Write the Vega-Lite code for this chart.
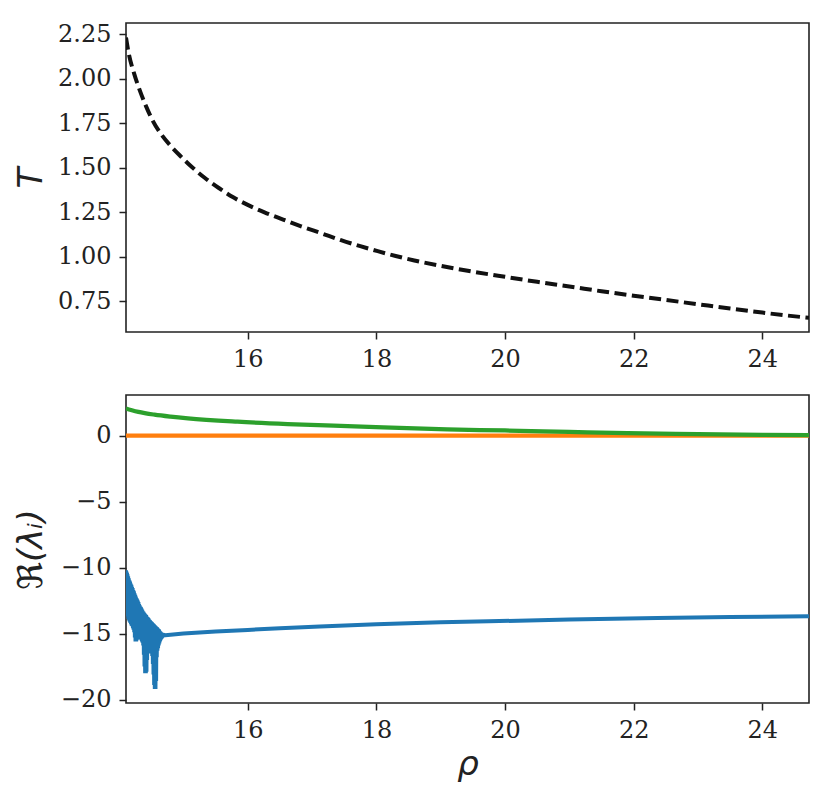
{
  "$schema": "https://vega.github.io/schema/vega-lite/v6.json",
  "padding": {"left": 13, "top": 21, "right": 10, "bottom": 5},
  "spacing": 22,
  "config": {
    "view": {"stroke": "#222", "strokeWidth": 1.6},
    "axis": {
      "grid": false,
      "domain": false,
      "tickColor": "#222",
      "tickWidth": 1.5,
      "tickSize": 7,
      "labelFont": "DejaVu Serif",
      "labelFontSize": 24,
      "labelColor": "#222",
      "labelPadding": 8,
      "titleFont": "DejaVu Sans",
      "titleFontStyle": "italic",
      "titleFontWeight": "normal",
      "titleFontSize": 34,
      "titleColor": "#222"
    }
  },
  "datasets": {
    "temp": [
      {"rho": 14.107, "T": 2.23},
      {"rho": 14.15, "T": 2.14},
      {"rho": 14.236, "T": 2.025},
      {"rho": 14.33, "T": 1.925},
      {"rho": 14.418, "T": 1.845},
      {"rho": 14.52, "T": 1.765},
      {"rho": 14.652, "T": 1.688},
      {"rho": 14.8, "T": 1.622},
      {"rho": 14.96, "T": 1.562},
      {"rho": 15.14, "T": 1.5},
      {"rho": 15.325, "T": 1.444},
      {"rho": 15.55, "T": 1.385},
      {"rho": 15.767, "T": 1.334},
      {"rho": 16.0, "T": 1.29},
      {"rho": 16.26, "T": 1.248},
      {"rho": 16.55, "T": 1.208},
      {"rho": 16.83, "T": 1.17},
      {"rho": 17.15, "T": 1.13},
      {"rho": 17.45, "T": 1.092},
      {"rho": 17.75, "T": 1.058},
      {"rho": 18.02, "T": 1.03},
      {"rho": 18.3, "T": 1.003},
      {"rho": 18.59, "T": 0.978},
      {"rho": 19.0, "T": 0.948},
      {"rho": 19.42, "T": 0.92},
      {"rho": 20.0, "T": 0.886},
      {"rho": 20.5, "T": 0.858},
      {"rho": 21.0, "T": 0.832},
      {"rho": 21.5, "T": 0.805},
      {"rho": 22.0, "T": 0.78},
      {"rho": 22.5, "T": 0.756},
      {"rho": 23.0, "T": 0.732},
      {"rho": 23.5, "T": 0.708},
      {"rho": 24.0, "T": 0.685},
      {"rho": 24.4, "T": 0.668},
      {"rho": 24.726, "T": 0.656}
    ],
    "lam_orange": [
      {"rho": 14.107, "re": 0},
      {"rho": 24.726, "re": 0}
    ],
    "lam_green": [
      {"rho": 14.107, "re": 2.05},
      {"rho": 14.13, "re": 2.02},
      {"rho": 14.3, "re": 1.8},
      {"rho": 14.55, "re": 1.59},
      {"rho": 14.8, "re": 1.44},
      {"rho": 15.07, "re": 1.31},
      {"rho": 15.84, "re": 1.06},
      {"rho": 16.62, "re": 0.88},
      {"rho": 17.66, "re": 0.705},
      {"rho": 19.1, "re": 0.47},
      {"rho": 20.0, "re": 0.39},
      {"rho": 21.0, "re": 0.28},
      {"rho": 21.9, "re": 0.19},
      {"rho": 23.0, "re": 0.11},
      {"rho": 24.0, "re": 0.05},
      {"rho": 24.726, "re": 0.03}
    ],
    "lam_blue": [
      {"rho": 14.107, "re": -10.2},
      {"rho": 14.11, "re": -12.2},
      {"rho": 14.114, "re": -10.3},
      {"rho": 14.118, "re": -12.8},
      {"rho": 14.122, "re": -10.4},
      {"rho": 14.126, "re": -13.4},
      {"rho": 14.13, "re": -10.5},
      {"rho": 14.135, "re": -13.7},
      {"rho": 14.14, "re": -10.65},
      {"rho": 14.145, "re": -13.9},
      {"rho": 14.15, "re": -10.8},
      {"rho": 14.155, "re": -14.0},
      {"rho": 14.16, "re": -10.95},
      {"rho": 14.165, "re": -14.1},
      {"rho": 14.17, "re": -11.05},
      {"rho": 14.175, "re": -14.2},
      {"rho": 14.18, "re": -11.2},
      {"rho": 14.185, "re": -14.3},
      {"rho": 14.19, "re": -11.3},
      {"rho": 14.195, "re": -14.4},
      {"rho": 14.2, "re": -11.45},
      {"rho": 14.205, "re": -14.45},
      {"rho": 14.21, "re": -11.55},
      {"rho": 14.215, "re": -14.6},
      {"rho": 14.22, "re": -11.7},
      {"rho": 14.225, "re": -14.7},
      {"rho": 14.23, "re": -11.8},
      {"rho": 14.235, "re": -14.9},
      {"rho": 14.24, "re": -11.95},
      {"rho": 14.245, "re": -15.3},
      {"rho": 14.25, "re": -12.05},
      {"rho": 14.255, "re": -15.6},
      {"rho": 14.26, "re": -12.2},
      {"rho": 14.265, "re": -15.6},
      {"rho": 14.27, "re": -12.3},
      {"rho": 14.275, "re": -15.5},
      {"rho": 14.28, "re": -12.4},
      {"rho": 14.285, "re": -15.3},
      {"rho": 14.29, "re": -12.5},
      {"rho": 14.295, "re": -15.2},
      {"rho": 14.3, "re": -12.6},
      {"rho": 14.305, "re": -15.2},
      {"rho": 14.31, "re": -12.75},
      {"rho": 14.315, "re": -15.25},
      {"rho": 14.32, "re": -12.85},
      {"rho": 14.325, "re": -15.3},
      {"rho": 14.33, "re": -12.95},
      {"rho": 14.335, "re": -15.4},
      {"rho": 14.34, "re": -13.0},
      {"rho": 14.345, "re": -15.5},
      {"rho": 14.35, "re": -13.1},
      {"rho": 14.355, "re": -15.6},
      {"rho": 14.36, "re": -13.2},
      {"rho": 14.365, "re": -15.7},
      {"rho": 14.37, "re": -13.3},
      {"rho": 14.375, "re": -15.9},
      {"rho": 14.38, "re": -13.35},
      {"rho": 14.385, "re": -16.6},
      {"rho": 14.39, "re": -13.45},
      {"rho": 14.395, "re": -17.5},
      {"rho": 14.4, "re": -13.5},
      {"rho": 14.405, "re": -18.0},
      {"rho": 14.41, "re": -13.55},
      {"rho": 14.415, "re": -18.0},
      {"rho": 14.42, "re": -13.6},
      {"rho": 14.425, "re": -17.9},
      {"rho": 14.43, "re": -13.7},
      {"rho": 14.435, "re": -17.0},
      {"rho": 14.44, "re": -13.75},
      {"rho": 14.445, "re": -16.5},
      {"rho": 14.45, "re": -13.8},
      {"rho": 14.455, "re": -16.4},
      {"rho": 14.46, "re": -13.85},
      {"rho": 14.465, "re": -16.3},
      {"rho": 14.47, "re": -13.95},
      {"rho": 14.475, "re": -16.3},
      {"rho": 14.48, "re": -14.0},
      {"rho": 14.485, "re": -16.35},
      {"rho": 14.49, "re": -14.05},
      {"rho": 14.495, "re": -16.4},
      {"rho": 14.5, "re": -14.1},
      {"rho": 14.505, "re": -16.5},
      {"rho": 14.51, "re": -14.15},
      {"rho": 14.515, "re": -16.7},
      {"rho": 14.52, "re": -14.2},
      {"rho": 14.525, "re": -17.3},
      {"rho": 14.53, "re": -14.25},
      {"rho": 14.535, "re": -18.1},
      {"rho": 14.54, "re": -14.3},
      {"rho": 14.545, "re": -18.9},
      {"rho": 14.55, "re": -14.35},
      {"rho": 14.555, "re": -19.2},
      {"rho": 14.56, "re": -14.4},
      {"rho": 14.565, "re": -19.2},
      {"rho": 14.57, "re": -14.45},
      {"rho": 14.575, "re": -18.6},
      {"rho": 14.58, "re": -14.5},
      {"rho": 14.585, "re": -16.8},
      {"rho": 14.59, "re": -14.55},
      {"rho": 14.595, "re": -16.3},
      {"rho": 14.6, "re": -14.6},
      {"rho": 14.605, "re": -16.1},
      {"rho": 14.61, "re": -14.65},
      {"rho": 14.615, "re": -15.9},
      {"rho": 14.62, "re": -14.7},
      {"rho": 14.625, "re": -15.75},
      {"rho": 14.63, "re": -14.78},
      {"rho": 14.635, "re": -15.6},
      {"rho": 14.64, "re": -14.85},
      {"rho": 14.645, "re": -15.5},
      {"rho": 14.65, "re": -14.9},
      {"rho": 14.655, "re": -15.4},
      {"rho": 14.66, "re": -14.95},
      {"rho": 14.665, "re": -15.35},
      {"rho": 14.67, "re": -15.0},
      {"rho": 14.675, "re": -15.28},
      {"rho": 14.68, "re": -15.03},
      {"rho": 14.685, "re": -15.22},
      {"rho": 14.69, "re": -15.06},
      {"rho": 14.695, "re": -15.18},
      {"rho": 14.7, "re": -15.1},
      {"rho": 14.72, "re": -15.12},
      {"rho": 14.8, "re": -15.08},
      {"rho": 15.0, "re": -15.0},
      {"rho": 15.5, "re": -14.85},
      {"rho": 16.0, "re": -14.72},
      {"rho": 16.5, "re": -14.6},
      {"rho": 17.12, "re": -14.46},
      {"rho": 18.0, "re": -14.29},
      {"rho": 19.0, "re": -14.15},
      {"rho": 19.745, "re": -14.07},
      {"rho": 21.0, "re": -13.94},
      {"rho": 22.37, "re": -13.82},
      {"rho": 23.5, "re": -13.75},
      {"rho": 24.726, "re": -13.69}
    ]
  },
  "vconcat": [
    {
      "width": 683,
      "height": 309,
      "data": {"name": "temp"},
      "mark": {"type": "line", "color": "#111", "strokeWidth": 4, "strokeDash": [12, 5.5], "interpolate": "monotone", "clip": true},
      "encoding": {
        "x": {
          "field": "rho", "type": "quantitative",
          "scale": {"domain": [14.107, 24.726], "nice": false, "zero": false},
          "axis": {"title": null, "values": [16, 18, 20, 22, 24], "format": "d"}
        },
        "y": {
          "field": "T", "type": "quantitative",
          "scale": {"domain": [0.576, 2.312], "nice": false, "zero": false},
          "axis": {"title": "T", "values": [0.75, 1.0, 1.25, 1.5, 1.75, 2.0, 2.25], "format": ".2f", "minExtent": 68, "maxExtent": 68, "titlePadding": 10}
        }
      }
    },
    {
      "width": 683,
      "height": 308,
      "encoding": {
        "x": {
          "field": "rho", "type": "quantitative",
          "scale": {"domain": [14.107, 24.726], "nice": false, "zero": false},
          "axis": {"title": "ρ", "values": [16, 18, 20, 22, 24], "format": "d", "titlePadding": 5}
        },
        "y": {
          "field": "re", "type": "quantitative",
          "scale": {"domain": [-20.26, 3.08], "nice": false, "zero": false},
          "axis": {"title": "ℜ(λᵢ)", "values": [-20, -15, -10, -5, 0], "format": "d", "minExtent": 68, "maxExtent": 68, "titlePadding": 10}
        }
      },
      "layer": [
        {"data": {"name": "lam_blue"}, "mark": {"type": "line", "color": "#1f77b4", "strokeWidth": 4, "clip": true}},
        {"data": {"name": "lam_orange"}, "mark": {"type": "line", "color": "#ff7f0e", "strokeWidth": 4.25, "clip": true}},
        {"data": {"name": "lam_green"}, "mark": {"type": "line", "color": "#2ca02c", "strokeWidth": 4.25, "interpolate": "monotone", "clip": true}}
      ]
    }
  ]
}
